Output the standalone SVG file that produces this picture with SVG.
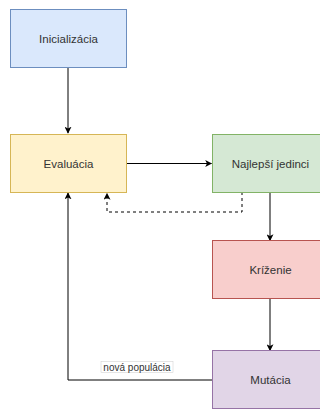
<svg xmlns="http://www.w3.org/2000/svg" width="320" height="409" viewBox="0 0 320 409">
  <style>
    .box { stroke-width: 1; }
    .lbl { font-family: "Liberation Sans", Arial, sans-serif; font-size: 11.5px; fill: #333333; text-anchor: middle; dominant-baseline: central; }
    .edge { fill: none; stroke: #000000; stroke-width: 1; }
    .dash { stroke-dasharray: 3 3; }
    .elbl { font-family: "Liberation Sans", Arial, sans-serif; font-size: 10px; fill: #333333; text-anchor: middle; dominant-baseline: central; }
  </style>
  <defs>
    <marker id="arrow" viewBox="0 0 10 10" refX="9" refY="5" markerWidth="7" markerHeight="7" markerUnits="userSpaceOnUse" orient="auto">
      <path d="M0,0 L10,5 L0,10 L2.5,5 Z" fill="#000000"/>
    </marker>
  </defs>
  <rect width="320" height="409" fill="#ffffff"/>

  <g id="connectors">
    <path class="edge" d="M68,67 L68,133" marker-end="url(#arrow)"/>
    <path class="edge" d="M126,163.5 L211.5,163.5" marker-end="url(#arrow)"/>
    <path class="edge dash" d="M242,192 L242,212 L107,212 L107,193.5" marker-end="url(#arrow)"/>
    <path class="edge" d="M270,192 L270,240.5" marker-end="url(#arrow)"/>
    <path class="edge" d="M270,298 L270,350.5" marker-end="url(#arrow)"/>
    <path class="edge" d="M212,380 L68,380 L68,193" marker-end="url(#arrow)"/>
    <g id="label-nova-populacia">
      <rect x="101" y="361.5" width="72" height="11" fill="#ffffff" stroke="#cccccc" stroke-width="0.5"/>
      <text class="elbl" x="137" y="367.5">nová populácia</text>
    </g>
  </g>

  <g id="inicializacia">
    <rect class="box" x="10.5" y="9.5" width="116" height="58" fill="#dae8fc" stroke="#6c8ebf"/>
    <text class="lbl" x="68.5" y="39">Inicializácia</text>
  </g>
  <g id="evaluacia">
    <rect class="box" x="10.5" y="134.5" width="116" height="58" fill="#fff2cc" stroke="#d6b656"/>
    <text class="lbl" x="68.5" y="164">Evaluácia</text>
  </g>
  <g id="najlepsi-jedinci">
    <rect class="box" x="212.5" y="134.5" width="116" height="58" fill="#d5e8d4" stroke="#82b366"/>
    <text class="lbl" x="270.5" y="164">Najlepší jedinci</text>
  </g>
  <g id="krizenie">
    <rect class="box" x="212.5" y="240.5" width="116" height="58" fill="#f8cecc" stroke="#b85450"/>
    <text class="lbl" x="270.5" y="270">Kríženie</text>
  </g>
  <g id="mutacia">
    <rect class="box" x="212.5" y="350.5" width="116" height="58" fill="#e1d5e7" stroke="#9673a6"/>
    <text class="lbl" x="270.5" y="380">Mutácia</text>
  </g>
</svg>
